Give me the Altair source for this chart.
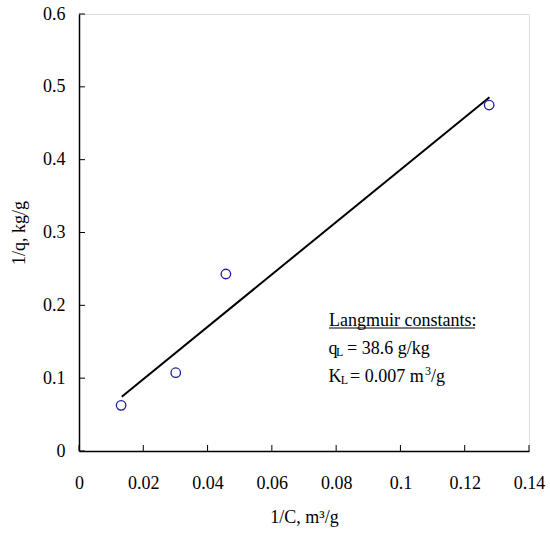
import altair as alt
import pandas as pd

# Data
inv_c = [0.0131, 0.0301, 0.0457, 0.1276]
inv_q = [0.0627, 0.1075, 0.243, 0.475]
fit_x = [0.0133, 0.1277]
fit_y = [0.0746, 0.4857]
x_ticks = [0.0, 0.02, 0.04, 0.06, 0.08, 0.1, 0.12, 0.14]
y_ticks = [0.0, 0.1, 0.2, 0.3, 0.4, 0.5, 0.6]

FONT = "Liberation Serif"
W, H = 450, 437

pts = pd.DataFrame({"x": inv_c, "y": inv_q})
fit = pd.DataFrame({"x": fit_x, "y": fit_y})
xt = pd.DataFrame({"v": x_ticks})
yt = pd.DataFrame({"v": y_ticks})

xscale = alt.Scale(domain=[0, 0.14], nice=False, zero=False)
yscale = alt.Scale(domain=[0, 0.6], nice=False, zero=False)

xaxis = alt.Axis(values=x_ticks, tickSize=0, labelPadding=23, domainColor="black",
                 domainWidth=1.5, grid=False, labelFontSize=18, labelColor="black",
                 title="1/C, m³/g", titleFontSize=18, titleFontWeight="normal",
                 titlePadding=16, titleColor="black", labelFlush=False,
                 labelExpr="datum.value == 0 ? '0' : format(datum.value, '.2~f')")
yaxis = alt.Axis(values=y_ticks, tickSize=0, labelPadding=14, domainColor="black",
                 domainWidth=1.5, grid=False, labelFontSize=18, labelColor="black",
                 title="1/q, kg/g", titleFontSize=18, titleFontWeight="normal",
                 titlePadding=14, titleColor="black", labelFlush=False,
                 labelExpr="datum.value == 0 ? '0' : format(datum.value, '.1~f')")

points = alt.Chart(pts).mark_point(shape="circle", filled=False, size=90,
                                   color="#1c1ca0", strokeWidth=1.3, opacity=1).encode(
    x=alt.X("x:Q", scale=xscale, axis=xaxis),
    y=alt.Y("y:Q", scale=yscale, axis=yaxis),
)

line = alt.Chart(fit).mark_line(color="black", strokeWidth=2).encode(
    x=alt.X("x:Q", scale=xscale), y=alt.Y("y:Q", scale=yscale)
)

xticks = alt.Chart(xt).mark_rule(color="black", strokeWidth=1).encode(
    x=alt.X("v:Q", scale=xscale), y=alt.value(H), y2=alt.value(H - 6)
)
yticks = alt.Chart(yt).mark_rule(color="black", strokeWidth=1).encode(
    y=alt.Y("v:Q", scale=yscale), x=alt.value(0), x2=alt.value(6)
)

def txt(s, x, y, size=18):
    return alt.Chart(pd.DataFrame({"t": [s]})).mark_text(
        align="left", baseline="alphabetic", font=FONT, fontSize=size, color="black"
    ).encode(text="t:N", x=alt.value(x), y=alt.value(y))

title_txt = "Langmuir constants:"
texts = [
    txt(title_txt, 250, 312),
    txt("q", 249.5, 340),
    txt("L", 257, 341.5, 12),
    txt("= 38.6 g/kg", 268, 340),
    txt("K", 249.5, 368),
    txt("L", 261.7, 369.5, 12),
    txt("= 0.007 m", 271, 368),
    txt("3", 346, 360.5, 12),
    txt("/g", 352, 368),
]
underline = alt.Chart(pd.DataFrame({"a": [0]})).mark_rule(color="black", strokeWidth=1).encode(
    x=alt.value(250), x2=alt.value(396), y=alt.value(314)
)

chart = alt.layer(line, points, xticks, yticks, underline, *texts).properties(
    width=W, height=H,
    autosize=alt.AutoSizeParams(type="none"),
    padding={"left": 79, "top": 14, "right": 21, "bottom": 86},
).configure_view(stroke="#444", strokeWidth=1.2).configure(
    font=FONT, background="white"
).configure_axis(labelFont=FONT, titleFont=FONT)

chart.save("out.html", embed_options={"renderer": "svg", "actions": False})
